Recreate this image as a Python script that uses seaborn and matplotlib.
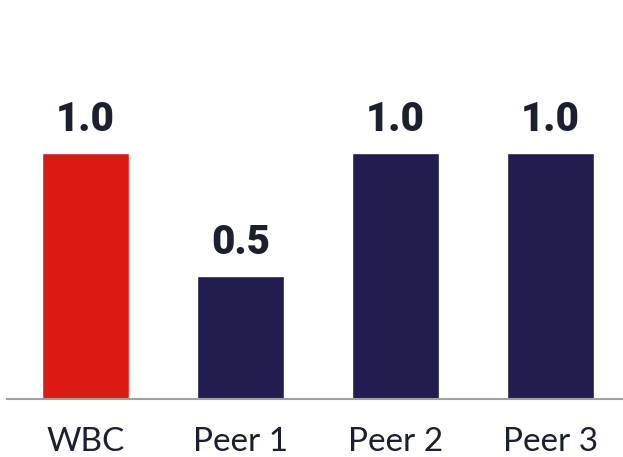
import matplotlib
matplotlib.use('Agg')
import matplotlib.pyplot as plt
import seaborn as sns
import pandas as pd

categories = ['WBC', 'Peer 1', 'Peer 2', 'Peer 3']
values = [1.0, 0.5, 1.0, 1.0]
bar_colors = ['#dc1a14', '#211d4e', '#211d4e', '#211d4e']

df = pd.DataFrame({'category': categories, 'value': values})

sns.set_theme(style='white')
plt.rcParams['font.family'] = ['Lato', 'DejaVu Sans']

fig = plt.figure(figsize=(6.23, 4.57), dpi=100)
ax = fig.add_axes([7 / 623, 58 / 457, 616 / 623, 399 / 457])

sns.barplot(data=df, x='category', y='value', hue='category', palette=bar_colors,
            width=0.56, saturation=1, legend=False, ax=ax)

# value labels above bars
for i, v in enumerate(values):
    ax.annotate(f'{v:.1f}', xy=(i, v), xytext=(0, 16), textcoords='offset points',
                ha='center', va='baseline', fontsize=29, fontweight='heavy',
                color='#1c1f2e', family=['Roboto', 'DejaVu Sans'])

ax.set_xlim(-0.506, 3.468)
ax.set_ylim(0, 1.622)
ax.set_xlabel('')
ax.set_ylabel('')
ax.set_yticks([])
for s in ['top', 'right', 'left']:
    ax.spines[s].set_visible(False)
ax.spines['bottom'].set_color('#a0a0a0')
ax.spines['bottom'].set_linewidth(1.5)
ax.tick_params(axis='x', length=0, pad=20, labelsize=24, labelcolor='#1c1f2e')

fig.savefig('out.png', dpi=100)
